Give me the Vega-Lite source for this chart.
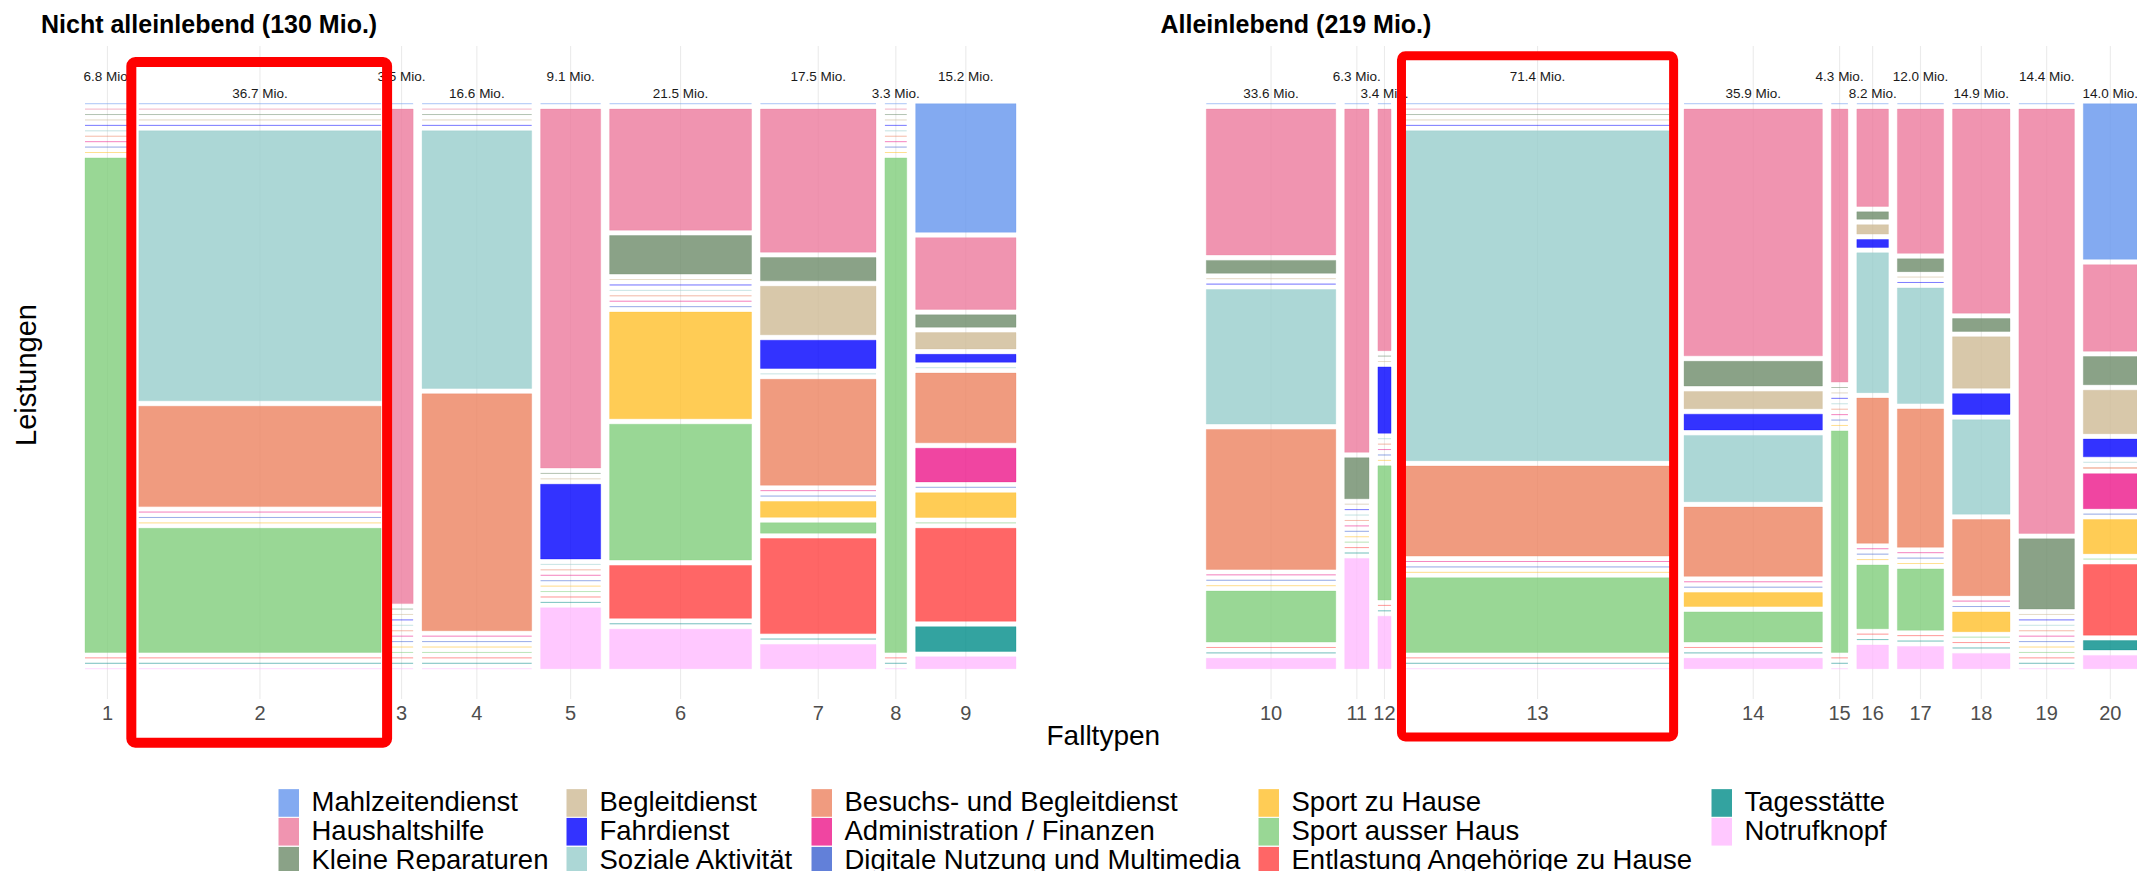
{
  "$schema": "https://vega.github.io/schema/vega-lite/v6.json",
  "background": "white",
  "padding": {"left": 12, "top": 13, "right": 0, "bottom": 0},
  "bounds": "flush",
  "spacing": 190.3,
  "config": {
    "view": {"stroke": null},
    "font": "Liberation Sans",
    "title": {"font": "Liberation Sans", "fontSize": 25, "fontWeight": "bold", "color": "black", "anchor": "start", "frame": "group"},
    "axis": {"labels": false, "ticks": false, "domain": false, "grid": false, "titleFont": "Liberation Sans", "titleFontWeight": "normal", "titleColor": "black"}
  },
  "data": {"values": [
    {"panel": "N", "typ": 1, "mio": 6.8, "cat": "Sport ausser Haus", "share": 100},
    {"panel": "N", "typ": 2, "mio": 36.7, "cat": "Soziale Aktivität", "share": 54.6},
    {"panel": "N", "typ": 2, "mio": 36.7, "cat": "Besuchs- und Begleitdienst", "share": 20.3},
    {"panel": "N", "typ": 2, "mio": 36.7, "cat": "Sport ausser Haus", "share": 25.1},
    {"panel": "N", "typ": 3, "mio": 3.5, "cat": "Haushaltshilfe", "share": 100},
    {"panel": "N", "typ": 4, "mio": 16.6, "cat": "Soziale Aktivität", "share": 52.1},
    {"panel": "N", "typ": 4, "mio": 16.6, "cat": "Besuchs- und Begleitdienst", "share": 47.9},
    {"panel": "N", "typ": 5, "mio": 9.1, "cat": "Haushaltshilfe", "share": 72.5},
    {"panel": "N", "typ": 5, "mio": 9.1, "cat": "Fahrdienst", "share": 15.1},
    {"panel": "N", "typ": 5, "mio": 9.1, "cat": "Notrufknopf", "share": 12.3},
    {"panel": "N", "typ": 6, "mio": 21.5, "cat": "Haushaltshilfe", "share": 24.5},
    {"panel": "N", "typ": 6, "mio": 21.5, "cat": "Kleine Reparaturen", "share": 7.8},
    {"panel": "N", "typ": 6, "mio": 21.5, "cat": "Sport zu Hause", "share": 21.6},
    {"panel": "N", "typ": 6, "mio": 21.5, "cat": "Sport ausser Haus", "share": 27.5},
    {"panel": "N", "typ": 6, "mio": 21.5, "cat": "Entlastung Angehörige zu Hause", "share": 10.7},
    {"panel": "N", "typ": 6, "mio": 21.5, "cat": "Notrufknopf", "share": 8.0},
    {"panel": "N", "typ": 7, "mio": 17.5, "cat": "Haushaltshilfe", "share": 28.9},
    {"panel": "N", "typ": 7, "mio": 17.5, "cat": "Kleine Reparaturen", "share": 4.7},
    {"panel": "N", "typ": 7, "mio": 17.5, "cat": "Begleitdienst", "share": 9.8},
    {"panel": "N", "typ": 7, "mio": 17.5, "cat": "Fahrdienst", "share": 5.7},
    {"panel": "N", "typ": 7, "mio": 17.5, "cat": "Besuchs- und Begleitdienst", "share": 21.4},
    {"panel": "N", "typ": 7, "mio": 17.5, "cat": "Sport zu Hause", "share": 3.2},
    {"panel": "N", "typ": 7, "mio": 17.5, "cat": "Sport ausser Haus", "share": 2.1},
    {"panel": "N", "typ": 7, "mio": 17.5, "cat": "Entlastung Angehörige zu Hause", "share": 19.2},
    {"panel": "N", "typ": 7, "mio": 17.5, "cat": "Notrufknopf", "share": 4.9},
    {"panel": "N", "typ": 8, "mio": 3.3, "cat": "Sport ausser Haus", "share": 100},
    {"panel": "N", "typ": 9, "mio": 15.2, "cat": "Mahlzeitendienst", "share": 26.0},
    {"panel": "N", "typ": 9, "mio": 15.2, "cat": "Haushaltshilfe", "share": 14.5},
    {"panel": "N", "typ": 9, "mio": 15.2, "cat": "Kleine Reparaturen", "share": 2.5},
    {"panel": "N", "typ": 9, "mio": 15.2, "cat": "Begleitdienst", "share": 3.3},
    {"panel": "N", "typ": 9, "mio": 15.2, "cat": "Fahrdienst", "share": 1.6},
    {"panel": "N", "typ": 9, "mio": 15.2, "cat": "Besuchs- und Begleitdienst", "share": 14.1},
    {"panel": "N", "typ": 9, "mio": 15.2, "cat": "Administration / Finanzen", "share": 6.8},
    {"panel": "N", "typ": 9, "mio": 15.2, "cat": "Sport zu Hause", "share": 5.0},
    {"panel": "N", "typ": 9, "mio": 15.2, "cat": "Entlastung Angehörige zu Hause", "share": 18.8},
    {"panel": "N", "typ": 9, "mio": 15.2, "cat": "Tagesstätte", "share": 5.0},
    {"panel": "N", "typ": 9, "mio": 15.2, "cat": "Notrufknopf", "share": 2.4},
    {"panel": "A", "typ": 10, "mio": 33.6, "cat": "Haushaltshilfe", "share": 29.5},
    {"panel": "A", "typ": 10, "mio": 33.6, "cat": "Kleine Reparaturen", "share": 2.6},
    {"panel": "A", "typ": 10, "mio": 33.6, "cat": "Soziale Aktivität", "share": 27.2},
    {"panel": "A", "typ": 10, "mio": 33.6, "cat": "Besuchs- und Begleitdienst", "share": 28.3},
    {"panel": "A", "typ": 10, "mio": 33.6, "cat": "Sport ausser Haus", "share": 10.3},
    {"panel": "A", "typ": 10, "mio": 33.6, "cat": "Notrufknopf", "share": 2.1},
    {"panel": "A", "typ": 11, "mio": 6.3, "cat": "Haushaltshilfe", "share": 69.4},
    {"panel": "A", "typ": 11, "mio": 6.3, "cat": "Kleine Reparaturen", "share": 8.3},
    {"panel": "A", "typ": 11, "mio": 6.3, "cat": "Notrufknopf", "share": 22.3},
    {"panel": "A", "typ": 12, "mio": 3.4, "cat": "Haushaltshilfe", "share": 48.8},
    {"panel": "A", "typ": 12, "mio": 3.4, "cat": "Fahrdienst", "share": 13.4},
    {"panel": "A", "typ": 12, "mio": 3.4, "cat": "Sport ausser Haus", "share": 27.1},
    {"panel": "A", "typ": 12, "mio": 3.4, "cat": "Notrufknopf", "share": 10.6},
    {"panel": "A", "typ": 13, "mio": 71.4, "cat": "Soziale Aktivität", "share": 66.7},
    {"panel": "A", "typ": 13, "mio": 71.4, "cat": "Besuchs- und Begleitdienst", "share": 18.2},
    {"panel": "A", "typ": 13, "mio": 71.4, "cat": "Sport ausser Haus", "share": 15.1},
    {"panel": "A", "typ": 14, "mio": 35.9, "cat": "Haushaltshilfe", "share": 49.9},
    {"panel": "A", "typ": 14, "mio": 35.9, "cat": "Kleine Reparaturen", "share": 5.0},
    {"panel": "A", "typ": 14, "mio": 35.9, "cat": "Begleitdienst", "share": 3.5},
    {"panel": "A", "typ": 14, "mio": 35.9, "cat": "Fahrdienst", "share": 3.2},
    {"panel": "A", "typ": 14, "mio": 35.9, "cat": "Soziale Aktivität", "share": 13.4},
    {"panel": "A", "typ": 14, "mio": 35.9, "cat": "Besuchs- und Begleitdienst", "share": 14.0},
    {"panel": "A", "typ": 14, "mio": 35.9, "cat": "Sport zu Hause", "share": 2.8},
    {"panel": "A", "typ": 14, "mio": 35.9, "cat": "Sport ausser Haus", "share": 6.1},
    {"panel": "A", "typ": 14, "mio": 35.9, "cat": "Notrufknopf", "share": 2.1},
    {"panel": "A", "typ": 15, "mio": 4.3, "cat": "Haushaltshilfe", "share": 55.2},
    {"panel": "A", "typ": 15, "mio": 4.3, "cat": "Sport ausser Haus", "share": 44.8},
    {"panel": "A", "typ": 16, "mio": 8.2, "cat": "Haushaltshilfe", "share": 19.7},
    {"panel": "A", "typ": 16, "mio": 8.2, "cat": "Kleine Reparaturen", "share": 1.5},
    {"panel": "A", "typ": 16, "mio": 8.2, "cat": "Begleitdienst", "share": 1.9},
    {"panel": "A", "typ": 16, "mio": 8.2, "cat": "Fahrdienst", "share": 1.6},
    {"panel": "A", "typ": 16, "mio": 8.2, "cat": "Soziale Aktivität", "share": 28.3},
    {"panel": "A", "typ": 16, "mio": 8.2, "cat": "Besuchs- und Begleitdienst", "share": 29.4},
    {"panel": "A", "typ": 16, "mio": 8.2, "cat": "Sport ausser Haus", "share": 12.9},
    {"panel": "A", "typ": 16, "mio": 8.2, "cat": "Notrufknopf", "share": 4.8},
    {"panel": "A", "typ": 17, "mio": 12.0, "cat": "Haushaltshilfe", "share": 29.2},
    {"panel": "A", "typ": 17, "mio": 12.0, "cat": "Kleine Reparaturen", "share": 2.6},
    {"panel": "A", "typ": 17, "mio": 12.0, "cat": "Soziale Aktivität", "share": 23.4},
    {"panel": "A", "typ": 17, "mio": 12.0, "cat": "Besuchs- und Begleitdienst", "share": 28.0},
    {"panel": "A", "typ": 17, "mio": 12.0, "cat": "Sport ausser Haus", "share": 12.4},
    {"panel": "A", "typ": 17, "mio": 12.0, "cat": "Notrufknopf", "share": 4.5},
    {"panel": "A", "typ": 18, "mio": 14.9, "cat": "Haushaltshilfe", "share": 41.3},
    {"panel": "A", "typ": 18, "mio": 14.9, "cat": "Kleine Reparaturen", "share": 2.6},
    {"panel": "A", "typ": 18, "mio": 14.9, "cat": "Begleitdienst", "share": 10.4},
    {"panel": "A", "typ": 18, "mio": 14.9, "cat": "Fahrdienst", "share": 4.2},
    {"panel": "A", "typ": 18, "mio": 14.9, "cat": "Soziale Aktivität", "share": 19.1},
    {"panel": "A", "typ": 18, "mio": 14.9, "cat": "Besuchs- und Begleitdienst", "share": 15.4},
    {"panel": "A", "typ": 18, "mio": 14.9, "cat": "Sport zu Hause", "share": 4.0},
    {"panel": "A", "typ": 18, "mio": 14.9, "cat": "Notrufknopf", "share": 3.1},
    {"panel": "A", "typ": 19, "mio": 14.4, "cat": "Haushaltshilfe", "share": 85.8},
    {"panel": "A", "typ": 19, "mio": 14.4, "cat": "Kleine Reparaturen", "share": 14.2},
    {"panel": "A", "typ": 20, "mio": 14.0, "cat": "Mahlzeitendienst", "share": 31.5},
    {"panel": "A", "typ": 20, "mio": 14.0, "cat": "Haushaltshilfe", "share": 17.5},
    {"panel": "A", "typ": 20, "mio": 14.0, "cat": "Kleine Reparaturen", "share": 5.7},
    {"panel": "A", "typ": 20, "mio": 14.0, "cat": "Begleitdienst", "share": 8.8},
    {"panel": "A", "typ": 20, "mio": 14.0, "cat": "Fahrdienst", "share": 3.6},
    {"panel": "A", "typ": 20, "mio": 14.0, "cat": "Besuchs- und Begleitdienst", "share": 0.1},
    {"panel": "A", "typ": 20, "mio": 14.0, "cat": "Administration / Finanzen", "share": 7.1},
    {"panel": "A", "typ": 20, "mio": 14.0, "cat": "Sport zu Hause", "share": 6.9},
    {"panel": "A", "typ": 20, "mio": 14.0, "cat": "Entlastung Angehörige zu Hause", "share": 14.3},
    {"panel": "A", "typ": 20, "mio": 14.0, "cat": "Tagesstätte", "share": 1.9},
    {"panel": "A", "typ": 20, "mio": 14.0, "cat": "Notrufknopf", "share": 2.7}
  ]},
  "transform": [
    {"impute": "share", "key": "cat", "keyvals": ["Mahlzeitendienst", "Haushaltshilfe", "Kleine Reparaturen", "Begleitdienst", "Fahrdienst", "Soziale Aktivität", "Besuchs- und Begleitdienst", "Administration / Finanzen", "Digitale Nutzung und Multimedia", "Sport zu Hause", "Sport ausser Haus", "Entlastung Angehörige zu Hause", "Tagesstätte", "Notrufknopf"], "groupby": ["panel", "typ", "mio"], "value": 0},
    {"calculate": "indexof(['Mahlzeitendienst', 'Haushaltshilfe', 'Kleine Reparaturen', 'Begleitdienst', 'Fahrdienst', 'Soziale Aktivität', 'Besuchs- und Begleitdienst', 'Administration / Finanzen', 'Digitale Nutzung und Multimedia', 'Sport zu Hause', 'Sport ausser Haus', 'Entlastung Angehörige zu Hause', 'Tagesstätte', 'Notrufknopf'], datum.cat)", "as": "ord"},
    {"stack": "share", "groupby": ["panel", "typ"], "sort": [{"field": "ord", "order": "ascending"}], "as": ["s0", "s1"], "offset": "normalize"},
    {"stack": "mio", "groupby": ["panel", "cat"], "sort": [{"field": "typ", "order": "ascending"}], "as": ["m0", "m1"], "offset": "normalize"},
    {"window": [{"op": "dense_rank", "as": "ci"}], "sort": [{"field": "typ", "order": "ascending"}], "groupby": ["panel", "cat"]},
    {"joinaggregate": [{"op": "count", "as": "nc"}], "groupby": ["panel", "cat"]},
    {"calculate": "1 - (datum.nc - 1) * 0.0096", "as": "xs"},
    {"calculate": "datum.m0 * datum.xs + (datum.ci - 1) * 0.0096", "as": "X0"},
    {"calculate": "datum.m1 * datum.xs + (datum.ci - 1) * 0.0096", "as": "X1"},
    {"calculate": "(datum.X0 + datum.X1) / 2", "as": "XC"},
    {"calculate": "datum.s0 * 0.8752 + datum.ord * 0.0096", "as": "Y0"},
    {"calculate": "datum.s1 * 0.8752 + datum.ord * 0.0096", "as": "Y1"},
    {"calculate": "datum.typ % 2 === 1 ? -0.0402 : -0.0096", "as": "LY"},
    {"calculate": "format(datum.mio, '.1f') + ' Mio.'", "as": "mlab"}
  ],
  "resolve": {"scale": {"x": "independent", "y": "independent", "color": "shared", "stroke": "shared"}},
  "hconcat": [
    {
      "width": 931,
      "height": 653,
      "title": {"text": "Nicht alleinlebend (130 Mio.)", "dx": -44, "offset": 7},
      "transform": [{"filter": "datum.panel === 'N'"}],
      "layer": [
        {
          "transform": [{"filter": "datum.cat === 'Mahlzeitendienst'"}],
          "mark": {"type": "rule", "color": "#EBEBEB", "strokeWidth": 1.1},
          "encoding": {
            "x": {"field": "XC", "type": "quantitative", "scale": {"domain": [0, 1], "nice": false, "zero": false},
                  "axis": {"title": "Falltypen", "titleFontSize": 28, "titleX": 1017.8, "titleY": 45.3, "titleAlign": "center", "titleBaseline": "alphabetic"}}
          }
        },
        {
          "mark": {"type": "rect", "fillOpacity": 0.8, "strokeWidth": 1, "strokeOpacity": 0.3},
          "encoding": {
            "x": {"field": "X0", "type": "quantitative", "scale": {"domain": [0, 1], "nice": false, "zero": false},
                  "axis": {"title": "Falltypen", "titleFontSize": 28, "titleX": 1017.8, "titleY": 45.3, "titleAlign": "center", "titleBaseline": "alphabetic"}},
            "x2": {"field": "X1"},
            "y": {"field": "Y0", "type": "quantitative", "scale": {"domain": [-0.1021, 1.0536], "reverse": true, "nice": false, "zero": false},
                  "axis": {"title": "Leistungen", "titleFontSize": 29, "titleX": -49.7, "titleY": 328.5, "titleAngle": 270, "titleAlign": "center", "titleBaseline": "alphabetic"}},
            "y2": {"field": "Y1"},
            "color": {"field": "cat", "type": "nominal",
              "scale": {"domain": ["Mahlzeitendienst", "Begleitdienst", "Besuchs- und Begleitdienst", "Sport zu Hause", "Tagesstätte", "Haushaltshilfe", "Fahrdienst", "Administration / Finanzen", "Sport ausser Haus", "Notrufknopf", "Kleine Reparaturen", "Soziale Aktivität", "Digitale Nutzung und Multimedia", "Entlastung Angehörige zu Hause"],
                        "range": ["#6495ED", "#CEBA95", "#EC825F", "#FFBF2A", "#008C88", "#EC799C", "#0000FF", "#EC1689", "#7FCD7A", "#FFBAFF", "#6D8B69", "#97CDCC", "#3B60CF", "#FF4040"]},
              "legend": {"title": null, "orient": "none", "legendX": 190, "legendY": 743, "columns": 5, "direction": "horizontal",
                         "symbolType": "M-1,-1.35H1V1.35H-1Z", "symbolSize": 420, "symbolStrokeWidth": 0, "symbolOpacity": 0.8,
                         "labelFont": "Liberation Sans", "labelFontSize": 27.5, "labelColor": "black", "labelOffset": 9, "labelLimit": 700,
                         "columnPadding": 14, "rowPadding": 0}},
            "stroke": {"field": "cat", "type": "nominal",
              "scale": {"domain": ["Mahlzeitendienst", "Begleitdienst", "Besuchs- und Begleitdienst", "Sport zu Hause", "Tagesstätte", "Haushaltshilfe", "Fahrdienst", "Administration / Finanzen", "Sport ausser Haus", "Notrufknopf", "Kleine Reparaturen", "Soziale Aktivität", "Digitale Nutzung und Multimedia", "Entlastung Angehörige zu Hause"],
                        "range": ["#6495ED", "#CEBA95", "#EC825F", "#FFBF2A", "#008C88", "#EC799C", "#0000FF", "#EC1689", "#7FCD7A", "#FFBAFF", "#6D8B69", "#97CDCC", "#3B60CF", "#FF4040"]},
              "legend": null}
          }
        },
        {
          "transform": [{"filter": "datum.cat === 'Mahlzeitendienst'"}],
          "mark": {"type": "text", "fontSize": 13.5, "baseline": "alphabetic", "align": "center", "color": "#1A1A1A"},
          "encoding": {
            "x": {"field": "XC", "type": "quantitative"},
            "y": {"field": "LY", "type": "quantitative"},
            "text": {"field": "mlab", "type": "nominal"}
          }
        },
        {
          "transform": [{"filter": "datum.cat === 'Mahlzeitendienst'"}],
          "mark": {"type": "text", "fontSize": 20, "baseline": "alphabetic", "align": "center", "color": "#4D4D4D"},
          "encoding": {
            "x": {"field": "XC", "type": "quantitative"},
            "y": {"datum": 1.0913, "type": "quantitative"},
            "text": {"field": "typ", "type": "quantitative", "format": "d"}
          }
        },
        {
          "transform": [{"filter": "datum.cat === 'Mahlzeitendienst' && datum.typ === 2"}],
          "mark": {"type": "rect", "filled": false, "stroke": "#FF0000", "strokeWidth": 10, "cornerRadius": 4, "xOffset": -7.5, "x2Offset": 6},
          "encoding": {
            "x": {"field": "X0", "type": "quantitative"},
            "x2": {"field": "X1"},
            "y": {"datum": -0.0738, "type": "quantitative"},
            "y2": {"datum": 1.131}
          }
        }
      ]
    },
    {
      "width": 931,
      "height": 653,
      "title": {"text": "Alleinlebend (219 Mio.)", "dx": -45.8, "offset": 7},
      "transform": [{"filter": "datum.panel === 'A'"}],
      "layer": [
        {
          "transform": [{"filter": "datum.cat === 'Mahlzeitendienst'"}],
          "mark": {"type": "rule", "color": "#EBEBEB", "strokeWidth": 1.1},
          "encoding": {
            "x": {"field": "XC", "type": "quantitative", "scale": {"domain": [0, 1], "nice": false, "zero": false}, "axis": null}
          }
        },
        {
          "mark": {"type": "rect", "fillOpacity": 0.8, "strokeWidth": 1, "strokeOpacity": 0.3},
          "encoding": {
            "x": {"field": "X0", "type": "quantitative", "scale": {"domain": [0, 1], "nice": false, "zero": false}, "axis": null},
            "x2": {"field": "X1"},
            "y": {"field": "Y0", "type": "quantitative", "scale": {"domain": [-0.1021, 1.0536], "reverse": true, "nice": false, "zero": false}, "axis": null},
            "y2": {"field": "Y1"},
            "color": {"field": "cat", "type": "nominal",
              "scale": {"domain": ["Mahlzeitendienst", "Begleitdienst", "Besuchs- und Begleitdienst", "Sport zu Hause", "Tagesstätte", "Haushaltshilfe", "Fahrdienst", "Administration / Finanzen", "Sport ausser Haus", "Notrufknopf", "Kleine Reparaturen", "Soziale Aktivität", "Digitale Nutzung und Multimedia", "Entlastung Angehörige zu Hause"],
                        "range": ["#6495ED", "#CEBA95", "#EC825F", "#FFBF2A", "#008C88", "#EC799C", "#0000FF", "#EC1689", "#7FCD7A", "#FFBAFF", "#6D8B69", "#97CDCC", "#3B60CF", "#FF4040"]}},
            "stroke": {"field": "cat", "type": "nominal",
              "scale": {"domain": ["Mahlzeitendienst", "Begleitdienst", "Besuchs- und Begleitdienst", "Sport zu Hause", "Tagesstätte", "Haushaltshilfe", "Fahrdienst", "Administration / Finanzen", "Sport ausser Haus", "Notrufknopf", "Kleine Reparaturen", "Soziale Aktivität", "Digitale Nutzung und Multimedia", "Entlastung Angehörige zu Hause"],
                        "range": ["#6495ED", "#CEBA95", "#EC825F", "#FFBF2A", "#008C88", "#EC799C", "#0000FF", "#EC1689", "#7FCD7A", "#FFBAFF", "#6D8B69", "#97CDCC", "#3B60CF", "#FF4040"]},
              "legend": null}
          }
        },
        {
          "transform": [{"filter": "datum.cat === 'Mahlzeitendienst'"}],
          "mark": {"type": "text", "fontSize": 13.5, "baseline": "alphabetic", "align": "center", "color": "#1A1A1A"},
          "encoding": {
            "x": {"field": "XC", "type": "quantitative", "axis": null},
            "y": {"field": "LY", "type": "quantitative", "axis": null},
            "text": {"field": "mlab", "type": "nominal"}
          }
        },
        {
          "transform": [{"filter": "datum.cat === 'Mahlzeitendienst'"}],
          "mark": {"type": "text", "fontSize": 20, "baseline": "alphabetic", "align": "center", "color": "#4D4D4D"},
          "encoding": {
            "x": {"field": "XC", "type": "quantitative", "axis": null},
            "y": {"datum": 1.0913, "type": "quantitative", "axis": null},
            "text": {"field": "typ", "type": "quantitative", "format": "d"}
          }
        },
        {
          "transform": [{"filter": "datum.cat === 'Mahlzeitendienst' && datum.typ === 13"}],
          "mark": {"type": "rect", "filled": false, "stroke": "#FF0000", "strokeWidth": 9, "cornerRadius": 4, "xOffset": 1.5, "x2Offset": -1.5},
          "encoding": {
            "x": {"field": "X0", "type": "quantitative", "axis": null},
            "x2": {"field": "X1"},
            "y": {"datum": -0.085, "type": "quantitative", "axis": null},
            "y2": {"datum": 1.121}
          }
        }
      ]
    }
  ]
}
